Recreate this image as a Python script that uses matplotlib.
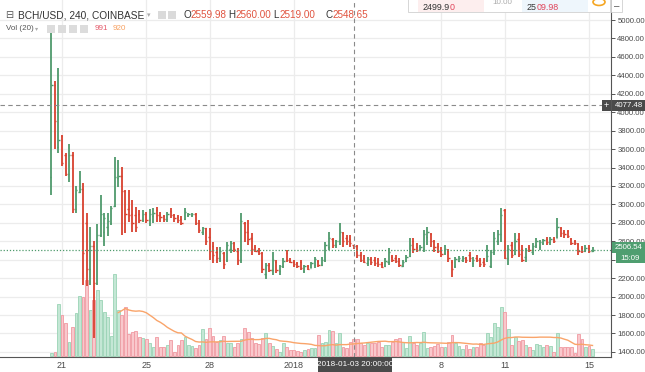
import matplotlib
matplotlib.use('Agg')
import matplotlib.pyplot as plt
import matplotlib.dates as mdates
from matplotlib.patches import Rectangle, Circle
import numpy as np
import pandas as pd

plt.rcParams['font.family'] = ['Liberation Sans', 'DejaVu Sans']

# BCH/USD 4h bars, Coinbase, 2017-12-20 12:00 onwards
opens = [3300, 4300, 3620, 3740, 3540, 3330, 3540, 2950, 3140, 3170,
         2800, 2300, 2550, 2150, 2670, 2700, 2750, 2800, 2980, 3290,
         3310, 3150, 2950, 2900, 2880, 2900, 2830, 2900, 2830, 2870,
         2940, 2890, 2870, 2840, 2930, 2880, 2860, 2840, 2840, 2880,
         2880, 2900, 2800, 2700, 2740, 2650, 2550, 2480, 2420, 2470,
         2400, 2520, 2580, 2500, 2400, 2800, 2700, 2640, 2540, 2500,
         2470, 2250, 2340, 2290, 2380, 2280, 2330, 2470, 2400, 2380,
         2360, 2370, 2280, 2330, 2310, 2340, 2390, 2340, 2400, 2540,
         2620, 2560, 2600, 2690, 2640, 2620, 2559.98, 2548, 2450, 2420,
         2360, 2410, 2400, 2380, 2350, 2330, 2380, 2430, 2420, 2390,
         2330, 2390, 2440, 2600, 2540, 2510, 2520, 2650, 2680, 2600,
         2550, 2500, 2470, 2500, 2380, 2330, 2390, 2400, 2420, 2450,
         2360, 2420, 2400, 2380, 2400, 2330, 2480, 2600, 2680, 2940,
         2420, 2560, 2460, 2630, 2520, 2430, 2540, 2480, 2560, 2540,
         2580, 2620, 2590, 2630, 2640, 2740, 2700, 2710, 2620, 2600,
         2570, 2530, 2500, 2530, 2500]
highs = [4950, 4340, 4480, 3753, 3561, 3655, 3565, 3203, 3362, 3229,
         2910, 2755, 2607, 2790, 3102, 2910, 2910, 2980, 3511, 3480,
         3410, 3156, 3156, 3048, 2970, 2940, 2940, 2920, 2950, 2960,
         2970, 2920, 2890, 2920, 2957, 2900, 2885, 2870, 2958, 2903,
         2903, 2903, 2831, 2759, 2741, 2741, 2596, 2542, 2542, 2488,
         2596, 2603, 2596, 2524, 2903, 2813, 2831, 2687, 2560, 2524,
         2488, 2361, 2361, 2488, 2397, 2343, 2415, 2506, 2415, 2397,
         2379, 2397, 2343, 2343, 2379, 2434, 2397, 2426, 2596, 2705,
         2632, 2614, 2795, 2705, 2668, 2668, 2560, 2560, 2488, 2452,
         2434, 2434, 2434, 2415, 2379, 2415, 2524, 2452, 2452, 2415,
         2397, 2452, 2632, 2632, 2578, 2560, 2723, 2759, 2687, 2614,
         2578, 2542, 2560, 2513, 2397, 2434, 2445, 2441, 2434, 2488,
         2426, 2452, 2415, 2415, 2560, 2506, 2705, 2723, 2958, 2947,
         2560, 2596, 2687, 2687, 2560, 2524, 2560, 2578, 2632, 2614,
         2622, 2650, 2650, 2650, 2849, 2759, 2723, 2723, 2632, 2614,
         2578, 2549, 2560, 2560, 2542]
lows = [3100, 3600, 3560, 3420, 3311, 3246, 2910, 2903, 3124, 2125,
        2110, 2125, 1550, 2125, 2650, 2550, 2660, 2777, 2975, 3190,
        2668, 2690, 2812, 2700, 2700, 2800, 2810, 2800, 2770, 2800,
        2805, 2810, 2813, 2813, 2850, 2813, 2795, 2777, 2831, 2860,
        2867, 2777, 2687, 2668, 2560, 2397, 2361, 2361, 2379, 2296,
        2379, 2470, 2488, 2343, 2361, 2596, 2560, 2452, 2488, 2452,
        2253, 2188, 2271, 2235, 2253, 2235, 2307, 2379, 2361, 2325,
        2307, 2289, 2253, 2289, 2307, 2307, 2318, 2332, 2379, 2506,
        2524, 2524, 2560, 2542, 2560, 2542, 2519, 2415, 2379, 2361,
        2332, 2343, 2332, 2318, 2307, 2325, 2343, 2379, 2361, 2318,
        2318, 2379, 2434, 2470, 2488, 2506, 2488, 2560, 2542, 2488,
        2470, 2434, 2452, 2379, 2217, 2307, 2380, 2379, 2368, 2379,
        2325, 2379, 2318, 2325, 2379, 2307, 2452, 2560, 2596, 2405,
        2343, 2415, 2452, 2434, 2379, 2379, 2488, 2452, 2524, 2506,
        2560, 2560, 2560, 2578, 2632, 2650, 2632, 2632, 2560, 2560,
        2452, 2477, 2488, 2477, 2488]
closes = [4300, 3900, 3700, 3450, 3330, 3540, 2950, 3160, 3170, 2470,
          2300, 2550, 2150, 2670, 2900, 2850, 2820, 2960, 3300, 3310,
          3150, 2900, 2880, 2800, 2760, 2830, 2900, 2830, 2900, 2910,
          2880, 2860, 2840, 2900, 2880, 2850, 2830, 2800, 2920, 2895,
          2900, 2800, 2720, 2740, 2600, 2500, 2450, 2420, 2500, 2350,
          2560, 2580, 2520, 2400, 2820, 2700, 2620, 2520, 2500, 2470,
          2300, 2340, 2290, 2400, 2290, 2330, 2390, 2400, 2380, 2350,
          2330, 2310, 2330, 2300, 2360, 2410, 2340, 2400, 2560, 2640,
          2560, 2600, 2700, 2600, 2600, 2580, 2548.65, 2450, 2400, 2380,
          2410, 2370, 2360, 2350, 2320, 2390, 2480, 2400, 2390, 2340,
          2380, 2430, 2560, 2520, 2510, 2540, 2680, 2700, 2600, 2540,
          2500, 2460, 2520, 2420, 2300, 2410, 2420, 2420, 2400, 2420,
          2400, 2400, 2350, 2350, 2440, 2480, 2640, 2680, 2880, 2420,
          2520, 2450, 2600, 2460, 2400, 2510, 2510, 2550, 2600, 2590,
          2610, 2590, 2630, 2600, 2760, 2690, 2680, 2660, 2580, 2580,
          2500, 2500, 2530, 2500, 2506.54]
volumes = [180, 260, 3120, 2460, 1960, 820, 1720, 2560, 3600, 3560,
           4560, 2760, 3360, 3960, 3360, 2660, 2320, 1200, 4900, 2760,
           2460, 2920, 1320, 1460, 1520, 1160, 1060, 1000, 760, 560,
           1120, 560, 560, 660, 960, 260, 660, 960, 1120, 660,
           600, 460, 660, 1600, 1000, 1660, 1200, 860, 960, 1200,
           760, 760, 560, 760, 1000, 1660, 1460, 1060, 760, 720,
           1060, 1360, 760, 600, 400, 260, 760, 560, 360, 360,
           320, 260, 360, 400, 460, 460, 1260, 760, 860, 1560,
           1520, 760, 1360, 560, 460, 860, 991, 1000, 760, 660,
           760, 760, 800, 860, 560, 660, 660, 860, 1000, 1060,
           860, 460, 1200, 760, 660, 760, 1460, 460, 560, 600,
           720, 560, 560, 860, 1260, 760, 600, 400, 660, 400,
           560, 560, 760, 660, 1400, 1160, 1960, 1760, 2920, 2660,
           1600, 660, 1160, 920, 960, 660, 560, 360, 720, 660,
           560, 660, 600, 260, 1360, 560, 560, 520, 560, 160,
           1320, 1000, 560, 600, 400]

price_ticks = [1400, 1600, 1800, 2000, 2200, 2400, 2600, 2800, 3000, 3200,
               3400, 3600, 3800, 4000, 4200, 4400, 4600, 4800, 5000]
date_ticks = ['2017-12-21', '2017-12-25', '2017-12-28', '2018-01-01',
              '2018-01-08', '2018-01-11', '2018-01-15']
date_labels = ['21', '25', '28', '2018', '8', '11', '15']
last_price = 2506.54
cross_price = 4077.48
cross_time = '2018-01-03 20:00'

UP = '#4f9a6c'
DOWN = '#d8412f'

o = np.array(opens, float)
h = np.array(highs, float)
l = np.array(lows, float)
c = np.array(closes, float)
v = np.array(volumes, float)
dates = pd.date_range('2017-12-20 12:00', periods=len(o), freq='4h')
t = mdates.date2num(dates.to_pydatetime())
up = c >= o

fig = plt.figure(figsize=(6.45, 3.72), dpi=100)
rect = [0, 15 / 372, 611 / 645, 357 / 372]
t0 = t[0]
xlim = (t0 - 2.441, t0 + 26.544)
ylim = (1345, 5217)

# grid layer
gax = fig.add_axes(rect)
gax.set_xlim(xlim)
gax.set_ylim(ylim)
for p in price_ticks:
    gax.axhline(p, color='#ececec', lw=0.9)
for d in date_ticks:
    gax.axvline(mdates.date2num(pd.Timestamp(d)), color='#ececec', lw=0.9)
gax.axis('off')

# volume layer
vax = fig.add_axes(rect)
vax.patch.set_visible(False)
vax.set_xlim(xlim)
vax.set_ylim(-60, 21360)
vax.bar(t[up], v[up], width=0.135, color='#c4e7d5', edgecolor='#9ad3b5', lw=0.6)
vax.bar(t[~up], v[~up], width=0.135, color='#f9c8cc', edgecolor='#f09aa2', lw=0.6)
ma = pd.Series(v).rolling(20).mean()
vax.plot(t, ma, color='#f9a46a', lw=1.0)
vax.axis('off')

# price layer
ax = fig.add_axes(rect)
ax.patch.set_visible(False)
ax.set_xlim(xlim)
ax.set_ylim(ylim)
tw = 1.3 / 21.08
for m, col in [(up, UP), (~up, DOWN)]:
    ax.vlines(t[m], l[m], h[m], color=col, lw=1.3)
    ax.hlines(o[m], t[m] - tw, t[m], color=col, lw=1.0)
    ax.hlines(c[m], t[m], t[m] + tw, color=col, lw=1.0)

ax.axhline(last_price, color='#4f9a6c', ls=(0, (1, 1.5)), lw=0.9)
ct = mdates.date2num(pd.Timestamp(cross_time))
ax.axvline(ct, color='#8a8a8a', ls=(0, (4, 3)), lw=0.8)
ax.axhline(cross_price, color='#8a8a8a', ls=(0, (4, 3)), lw=0.8)

ax.yaxis.tick_right()
ax.set_yticks(price_ticks)
ax.set_yticklabels(['%.2f' % p for p in price_ticks])
ax.set_xticks([mdates.date2num(pd.Timestamp(d)) for d in date_ticks])
ax.set_xticklabels(date_labels)
ax.tick_params(axis='y', direction='out', length=3, width=0.7, colors='#555555',
               labelsize=5.55, labelcolor='#4a4a4a', pad=1.5)
ax.tick_params(axis='x', length=0, labelsize=6.5, labelcolor='#4a4a4a', pad=3)
for s in ['top', 'left']:
    ax.spines[s].set_visible(False)
ax.spines['right'].set_color('#555555')
ax.spines['bottom'].set_color('#555555')
ax.spines['right'].set_linewidth(0.8)
ax.spines['bottom'].set_linewidth(0.8)


def fx(px):
    return px / 645


def fy(py):
    return 1 - py / 372


def box(x0, y0, x1, y1, fc, ec='none', lw=0.6, z=5):
    fig.patches.append(Rectangle((fx(x0), fy(y1)), fx(x1) - fx(x0), fy(y0) - fy(y1),
                                 transform=fig.transFigure, facecolor=fc, edgecolor=ec,
                                 lw=lw, zorder=z))


# header
fig.text(fx(5), fy(15), '\u229f', fontsize=7, color='#555555', va='center',
         family=['DejaVu Sans'])
fig.text(fx(18), fy(15), 'BCH/USD, 240, COINBASE', fontsize=7.3, color='#333333', va='center')
fig.text(fx(147), fy(15), '\u25be', fontsize=5, color='#aaaaaa', va='center',
         family=['DejaVu Sans'])
for xx in [158, 168]:
    box(xx, 11, xx + 8, 19, '#dadada')
red = '#e0533f'
for lab, val, xx in [('O', '2559.98', 183), ('H', '2560.00', 228),
                     ('L', '2519.00', 273), ('C', '2548.65', 325)]:
    fig.text(fx(xx), fy(15), lab, fontsize=7.1, color='#333333', va='center')
    fig.text(fx(xx + 7), fy(15), val, fontsize=7.1, color=red, va='center')
fig.text(fx(6), fy(29), 'Vol (20)', fontsize=5.8, color='#555555', va='center')
fig.text(fx(35), fy(29), '\u25be', fontsize=4.5, color='#aaaaaa', va='center',
         family=['DejaVu Sans'])
for xx in [47, 58, 69, 80]:
    box(xx, 25, xx + 8, 33, '#dcdcdc')
fig.text(fx(95), fy(29), '991', fontsize=5.8, color='#e45a6a', va='center')
fig.text(fx(113), fy(29), '920', fontsize=5.8, color='#f7a060', va='center')

# trading panel at the top
box(408, -2, 610, 12, 'white', ec='#d0d0d0', lw=0.6, z=6)
box(418, -2, 484, 12, '#fdeeee', z=7)
box(522, -2, 588, 12, '#eef6fc', z=7)
fig.text(fx(423), fy(7), '2499.9', fontsize=6.4, color='#333333', va='center', zorder=8)
fig.text(fx(450), fy(7), '0', fontsize=6.4, color='#e0445a', va='center', zorder=8)
fig.text(fx(492), fy(3), '10.00', fontsize=5.8, color='#aaaaaa', va='center', zorder=8)
fig.text(fx(527), fy(7), '25', fontsize=6.4, color='#333333', va='center', zorder=8)
fig.text(fx(537), fy(7), '09.98', fontsize=6.4, color='#e0445a', va='center', zorder=8)
fig.patches.append(Circle((fx(599), fy(2)), 6 / 645, transform=fig.transFigure,
                          facecolor='white', edgecolor='#f5a623', lw=1.2, zorder=8))
box(611, -2, 622, 12, 'white', ec='#d0d0d0', z=6)
fig.text(fx(616.5), fy(6), '\u2013', fontsize=7, color='#555555', ha='center', va='center', zorder=8)

# crosshair labels
box(612, 100, 645, 111, '#4a4a4a', z=6)
fig.text(fx(614.5), fy(105.5), '4077.48', fontsize=5.55, color='white', va='center', zorder=7)
box(602, 100, 611, 111, '#4a4a4a', z=6)
fig.text(fx(606.5), fy(105.5), '+', fontsize=6.5, color='white', ha='center', va='center', zorder=7)
box(318, 357, 392, 372, '#4a4a4a', z=6)
fig.text(fx(355), fy(364), '2018-01-03 20:00:00', fontsize=5.9, color='white',
         ha='center', va='center', zorder=7)

# last price labels
box(612, 242, 645, 253, '#4f9e70', z=6)
fig.text(fx(614.5), fy(247.5), '2506.54', fontsize=5.55, color='white', va='center', zorder=7)
box(616, 253, 645, 263, '#4f9e70', z=6)
fig.text(fx(620), fy(258), '15:09', fontsize=5.55, color='white', va='center', zorder=7)

fig.savefig('out.png', dpi=100)
